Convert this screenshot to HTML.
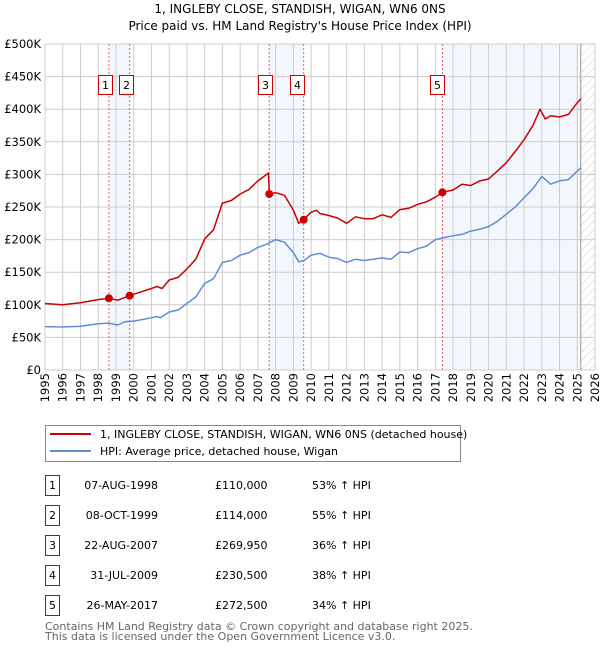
<!DOCTYPE html>
<html><head><meta charset="utf-8"><style>
body{margin:0;background:#fff;font-family:"DejaVu Sans","Liberation Sans",sans-serif;}
svg text{font-family:"DejaVu Sans","Liberation Sans",sans-serif;}
</style></head><body>
<svg id="c" width="600" height="650" xmlns="http://www.w3.org/2000/svg">
<defs><pattern id="hatch" width="6" height="6" patternUnits="userSpaceOnUse" patternTransform="rotate(45)"><line x1="0" y1="0" x2="0" y2="6" stroke="#ccc" stroke-width="1"/></pattern></defs>
<text x="300" y="13" text-anchor="middle" font-size="12">1, INGLEBY CLOSE, STANDISH, WIGAN, WN6 0NS</text>
<text x="300" y="30" text-anchor="middle" font-size="12">Price paid vs. HM Land Registry's House Price Index (HPI)</text>
<g id="plot"></g>
<g>
<rect x="45.5" y="425.5" width="415" height="36" fill="#fff" stroke="#888"/>
<line x1="50" y1="434" x2="91" y2="434" stroke="#cc0000" stroke-width="2"/>
<text x="100" y="438" font-size="11">1, INGLEBY CLOSE, STANDISH, WIGAN, WN6 0NS (detached house)</text>
<line x1="50" y1="451" x2="91" y2="451" stroke="#5b8fd4" stroke-width="2"/>
<text x="100" y="455" font-size="11">HPI: Average price, detached house, Wigan</text>
</g>
<g id="table" font-size="11"></g>
<text x="45" y="630" font-size="11" fill="#666">Contains HM Land Registry data © Crown copyright and database right 2025.</text>
<text x="45" y="640" font-size="11" fill="#666">This data is licensed under the Open Government Licence v3.0.</text>
</svg>
<script>
const yearTicks=[1995,1996,1997,1998,1999,2000,2001,2002,2003,2004,2005,2006,2007,2008,2009,2010,2011,2012,2013,2014,2015,2016,2017,2018,2019,2020,2021,2022,2023,2024,2025,2026];
const valueTicks=[0,50000,100000,150000,200000,250000,300000,350000,400000,450000,500000];
const valueLabels=["£0","£50K","£100K","£150K","£200K","£250K","£300K","£350K","£400K","£450K","£500K"];
const hpiYears=[1995,1996,1997,1998,1998.6,1999.1,1999.5,2000,2001,2001.3,2001.5,2002,2002.5,2003,2003.5,2004,2004.5,2005,2005.5,2006,2006.5,2007,2007.5,2008,2008.5,2009,2009.3,2009.6,2010,2010.5,2011,2011.5,2012,2012.5,2013,2013.5,2014,2014.5,2015,2015.5,2016,2016.5,2017,2017.5,2018,2018.5,2019,2019.5,2020,2020.5,2021,2021.5,2022,2022.5,2023,2023.3,2023.5,2024,2024.5,2025,2025.2];
const hpiValues=[66600,66000,67000,71000,72000,69000,74000,75000,80000,82000,80000,89000,92000,102000,112000,133000,140000,165000,168000,176000,180000,188000,193000,200000,196000,180000,166000,168000,176000,179000,173000,171000,165000,170000,168000,170000,172000,170000,181000,180000,186000,190000,200000,203000,206000,208000,213000,216000,220000,228000,239000,250000,264000,278000,297000,290000,285000,290000,292000,305000,310000];
const priceYears=[1995,1996,1997,1998,1998.6,1999.1,1999.77,2000.2,2001,2001.3,2001.6,2002,2002.5,2003,2003.5,2004,2004.5,2005,2005.5,2006,2006.5,2007,2007.5,2007.6,2007.64,2008,2008.5,2009,2009.3,2009.58,2010,2010.3,2010.5,2011,2011.5,2012,2012.5,2013,2013.5,2014,2014.5,2015,2015.5,2016,2016.5,2017,2017.4,2018,2018.5,2019,2019.5,2020,2020.5,2021,2021.5,2022,2022.5,2022.9,2023.2,2023.5,2024,2024.5,2025,2025.2];
const priceValues=[102000,100000,103000,108000,110000,107000,114000,118000,125000,128000,125000,138000,142000,155000,170000,201000,215000,256000,260000,270000,277000,290000,300000,302000,270000,272000,268000,245000,225000,230500,242000,245000,240000,237000,233000,225000,235000,232000,232000,238000,234000,246000,248000,254000,258000,265000,272500,276000,285000,283000,290000,293000,305000,318000,335000,353000,375000,400000,385000,390000,388000,392000,410000,416000];
const saleLabels=["1","2","3","4","5"];
const saleDates=[1998.6,1999.77,2007.64,2009.58,2017.4];
const salePrices=[110000,114000,269950,230500,272500];
const saleDateText=["07-AUG-1998","08-OCT-1999","22-AUG-2007","31-JUL-2009","26-MAY-2017"];
const salePriceText=["£110,000","£114,000","£269,950","£230,500","£272,500"];
const salePctText=["53% ↑ HPI","55% ↑ HPI","36% ↑ HPI","38% ↑ HPI","34% ↑ HPI"];
const dataEnd=2025.2;

const X0=45,X1=595,Y0=370,Y1=44;
const xs=y=>X0+(y-1995)/(2026-1995)*(X1-X0);
const ys=v=>Y0-v/500000*(Y0-Y1);
const NS="http://www.w3.org/2000/svg";
const plot=document.getElementById('plot');
function mk(tag,attrs,parent){const e=document.createElementNS(NS,tag);for(const k in attrs)e.setAttribute(k,attrs[k]);(parent||plot).appendChild(e);return e;}

const shadeG=mk('g',{});


[[0,1],[2,3],[4,-1]].forEach(p=>{
  const a=xs(saleDates[p[0]]),b=p[1]<0?xs(dataEnd):xs(saleDates[p[1]]);
  const r=mk('rect',{x:a,y:Y1,width:b-a,height:Y0-Y1,fill:'#f3f7fd'},shadeG);
  
  
});
const h=mk('rect',{x:xs(dataEnd),y:Y1,width:X1-xs(dataEnd),height:Y0-Y1,fill:'url(#hatch)'});



const grid=mk('g',{stroke:'#ccc','stroke-width':1});


yearTicks.forEach(y=>mk('line',{x1:xs(y),x2:xs(y),y1:Y1,y2:Y0},grid));
valueTicks.forEach(v=>mk('line',{x1:X0,x2:X1,y1:ys(v),y2:ys(v)},grid));
mk('line',{x1:xs(dataEnd),x2:xs(dataEnd),y1:Y1,y2:Y0,stroke:'#999','stroke-width':1});

valueTicks.forEach((v,i)=>{const t=mk('text',{x:X0-4,y:ys(v)+4,'text-anchor':'end','font-size':11.5});t.textContent=valueLabels[i];

});
yearTicks.forEach(y=>{const t=mk('text',{x:0,y:0,'text-anchor':'end','font-size':11.5,transform:`translate(${xs(y)+4},373) rotate(-90)`});t.textContent=y;

});

saleDates.forEach((d,i)=>{
  const l=mk('line',{x1:xs(d),x2:xs(d),y1:Y1,y2:Y0,stroke:'#f06060','stroke-width':1,'stroke-dasharray':'2,2'});
  
  
});
const boxX=[98,119,258,290,430];
saleLabels.forEach((s,i)=>{
  const g=mk('g',{});
  
  
  mk('rect',{x:boxX[i]+0.5,y:75.5,width:14,height:19,fill:'#fff',stroke:'#cc0000'},g);
  const t=mk('text',{x:boxX[i]+7.5,y:89,'text-anchor':'middle','font-size':11},g);t.textContent=s;
});

function path(xa,va,color,name){
  const d=xa.map((x,i)=>(i?'L':'M')+xs(x).toFixed(1)+','+ys(va[i]).toFixed(1)).join('');
  const p=mk('path',{d:d,fill:'none',stroke:color,'stroke-width':1.5,'stroke-linejoin':'round'});
  
  
}
path(hpiYears,hpiValues,'#5b8fd4','hpi-line');
path(priceYears,priceValues,'#cc0000','price-line');
saleDates.forEach((d,i)=>{const c=mk('circle',{cx:xs(d),cy:ys(salePrices[i]),r:4,fill:'#cc0000'});

});

const tb=document.getElementById('table');
saleLabels.forEach((s,i)=>{
  const y=492+i*30;
  const g=mk('g',{},tb);
  
  
  mk('rect',{x:45.5,y:y-16.5,width:14,height:20,fill:'#fff',stroke:'#cc0000'},g);
  let t=mk('text',{x:52.5,y:y-3,'text-anchor':'middle'},g);t.textContent=s;
  t=mk('text',{x:158,y:y-3,'text-anchor':'end'},g);t.textContent=saleDateText[i];
  t=mk('text',{x:215,y:y-3},g);t.textContent=salePriceText[i];
  t=mk('text',{x:312,y:y-3},g);t.textContent=salePctText[i];
});
</script>
</body></html>
